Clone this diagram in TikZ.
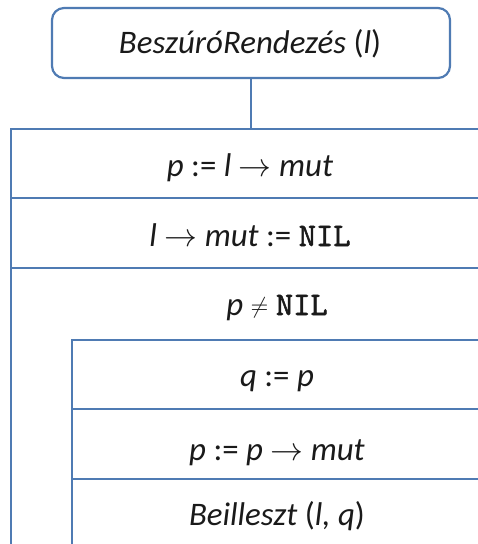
\documentclass[tikz,border=0pt]{standalone}
\usepackage{fontspec}
\setmainfont{Carlito}
\newfontfamily\nilfont[AutoFakeBold=1.6]{lmmono10-regular.otf}
% scalable math symbol fonts for the large arrows and the inequality sign
\DeclareFontShape{OMS}{cmsy}{m}{n}{<->cmsy10}{}
\DeclareFontShape{OT1}{cmr}{m}{n}{<->cmr10}{}
\definecolor{nsblue}{HTML}{4F7BB3}
\definecolor{nstext}{HTML}{1A1A1A}
\newcommand{\NILword}{{\nilfont\bfseries NIL}}
\newcommand{\smallneq}{{\fontsize{23}{28}\selectfont$\neq$}}
\begin{document}
\begin{tikzpicture}[x=1bp,y=-1bp,
  nsline/.style={draw=nsblue,line width=2.2bp},
  stmt/.style={anchor=base,text=nstext,inner sep=0pt,font=\fontsize{33}{40}\selectfont}]
\useasboundingbox (0,0) rectangle (478,544);
% procedure header
\node[nsline,rounded corners=12bp,minimum width=398bp,minimum height=70bp,inner sep=0pt]
  (head) at (251,43) {};
\node[stmt] (title) at (250,54) {\textit{BeszúróRendezés} (\textit{l})};
\coordinate (stem) at (251,129);
\draw[nsline] (head.south) -- (stem);
% outer sequence
\coordinate (o1) at (11,129);
\coordinate (o2) at (11,198);
\coordinate (o3) at (11,268);
\coordinate (obot) at (11,550);
\coordinate (r1) at (480,129);
\coordinate (r2) at (480,198);
\coordinate (r3) at (480,268);
\draw[nsline] (r1) -- (o1) -- (obot);
\draw[nsline] (o2) -- (r2);
\draw[nsline] (o3) -- (r3);
\node[stmt] (s1) at (250,177) {\textit{p} := \textit{l} $\rightarrow$ \textit{mut}};
\node[stmt] (s2) at (250,246) {\textit{l} $\rightarrow$ \textit{mut} := \NILword};
\node[stmt] (cond) at (277,315) {\textit{p} \raisebox{2bp}{\smallneq} \NILword};
% loop body
\coordinate (i1) at (72,340);
\coordinate (i2) at (72,409);
\coordinate (i3) at (72,479);
\coordinate (ibot) at (72,550);
\coordinate (q1) at (480,340);
\coordinate (q2) at (480,409);
\coordinate (q3) at (480,479);
\draw[nsline] (q1) -- (i1) -- (ibot);
\draw[nsline] (i2) -- (q2);
\draw[nsline] (i3) -- (q3);
\node[stmt] (b1) at (277,386) {\textit{q} := \textit{p}};
\node[stmt] (b2) at (277,460) {\textit{p} := \textit{p} $\rightarrow$ \textit{mut}};
\node[stmt] (b3) at (277,525) {\textit{Beilleszt} (\textit{l, q})};
\end{tikzpicture}
\end{document}
